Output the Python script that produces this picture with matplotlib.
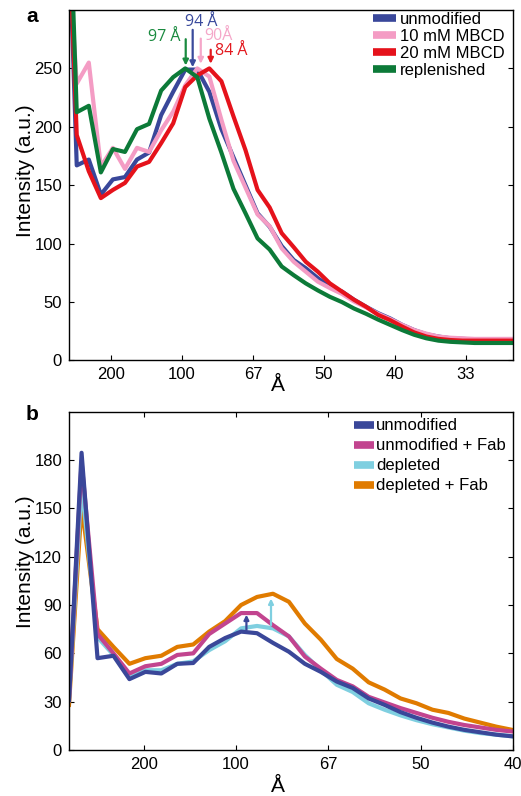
import matplotlib
matplotlib.use('Agg')
import matplotlib.pyplot as plt

plt.rcParams['font.family'] = ['Liberation Sans', 'DejaVu Sans']

# ---------------- Panel a data ----------------
q_a = [0.001736, 0.002585, 0.003434, 0.004283, 0.005132, 0.005981, 0.006830, 0.007679,
       0.008528, 0.009377, 0.010226, 0.011075, 0.011924, 0.012773, 0.013622, 0.014471,
       0.015320, 0.016169, 0.017018, 0.017867, 0.018716, 0.019565, 0.020414, 0.021263,
       0.022112, 0.022961, 0.023810, 0.024659, 0.025508, 0.026357, 0.027206, 0.028055,
       0.028904, 0.029753, 0.030602, 0.031451, 0.032300, 0.033149, 0.033998]
a_unmod = [480, 167, 172, 142, 155, 157, 172, 178, 210, 230, 249, 249, 230, 198, 174, 150,
           126, 114.5, 98, 86, 79, 70.5, 63, 59, 52, 46, 40.5, 36, 30.5, 26, 22.5, 20.5,
           19, 18.5, 18, 18, 17.5, 17.5, 17.5]
a_10mm = [400, 237, 255, 166, 182, 164, 182, 178.5, 197, 213, 235.5, 250, 243, 206, 171, 148,
          125, 115, 96, 84.5, 76, 67.5, 62, 57, 50.5, 45.5, 40, 35.5, 30.5, 26, 23, 20.5,
          19.5, 19, 18.5, 18.5, 18.5, 18.5, 18.5]
a_20mm = [470, 193, 162, 139, 146, 152, 166, 170, 186, 203, 234, 244, 250, 239, 209, 180,
          146, 131, 109, 97, 84.5, 76, 66, 59, 52, 46, 39, 34.5, 29, 24, 20.5, 18.5,
          17.5, 17, 17, 17, 17, 17, 17]
a_repl = [520, 212.5, 218, 161, 181, 178.5, 198, 202.5, 231, 242.5, 250, 242.5, 207, 178, 147, 126,
          104.5, 95, 80.5, 73, 66, 60, 54.5, 50, 44.5, 40, 35, 30.5, 26, 22, 19, 17,
          16, 15.5, 15, 15, 15, 15, 15]
a_labels = ['unmodified', '10 mM MBCD', '20 mM MBCD', 'replenished']
a_colors = ['#39479a', '#f49cc4', '#e5121b', '#0c7a38']
a_xticks = [0.005, 0.010, 0.015, 0.020, 0.025, 0.030]
a_xticklabels = ['200', '100', '67', '50', '40', '33']
a_yticks = [0, 50, 100, 150, 200, 250]

# peak annotations (label, arrow x, arrow tail y, arrow head y, text x, text y, ha, colour)
a_peaks = [('97 Å', 0.01026, 275, 252.5, 0.00986, 276.5, 'right', '#1a8a3f'),
           ('94 Å', 0.01075, 283, 251, 0.01021, 290, 'left', '#3a4a9c'),
           ('90Å', 0.01132, 275.5, 254, 0.01155, 278, 'left', '#f5a7c9'),
           ('84 Å', 0.01202, 266, 254, 0.01232, 264.5, 'left', '#e3191f')]

# ---------------- Panel b data ----------------
q_b = [0.000960, 0.001640, 0.002503, 0.003366, 0.004229, 0.005092, 0.005955, 0.006818,
       0.007681, 0.008544, 0.009407, 0.010270, 0.011133, 0.011996, 0.012859, 0.013722,
       0.014585, 0.015448, 0.016311, 0.017174, 0.018037, 0.018900, 0.019763, 0.020626,
       0.021489, 0.022352, 0.023215, 0.024078, 0.024941]
b_unmod = [31, 184.5, 57, 58.5, 44, 48.5, 47.5, 53.5, 54, 64, 69.5, 73.5, 72.5, 66.5, 61,
           53.5, 48.5, 42.5, 38.5, 32, 28, 23.5, 20, 17, 14.5, 12.5, 11, 9.5, 8.5]
b_unmod_fab = [31, 179, 72, 60, 47.5, 52, 53.5, 59, 60, 72, 78.5, 85, 85, 77.5, 70.5,
               58, 50.5, 43.5, 39.5, 33, 29.5, 26, 23, 20, 17.5, 15.5, 14, 12.5, 11.5]
b_depl = [31, 165, 70, 59, 45.5, 49.5, 49.5, 53.5, 55, 62, 67.5, 75.5, 77, 75.5, 70.5,
          59, 49.5, 40.5, 36, 29, 25, 21.5, 18.5, 16, 14, 12, 10.5, 9.5, 8.5]
b_depl_fab = [28, 152, 75, 64, 53.5, 57, 58.5, 64, 65.5, 73.5, 80, 90, 95, 97, 92,
              78.5, 68.5, 56.5, 50.5, 42, 37.5, 32, 29, 25, 23, 19.5, 17, 14.5, 12.5]
b_labels = ['unmodified', 'unmodified + Fab', 'depleted', 'depleted + Fab']
b_colors = ['#3a4799', '#c2448f', '#7fcfe0', '#e07b00']
b_xticks = [0.005, 0.010, 0.015, 0.020, 0.025]
b_xticklabels = ['200', '100', '67', '50', '40']
b_yticks = [0, 30, 60, 90, 120, 150, 180]
# shift arrows (x, tail y, head y, colour)
b_arrows = [(0.01056, 74.5, 84, '#3a4799'), (0.01189, 77.5, 94, '#7fcfe0')]

W, H = 521, 796
fig = plt.figure(figsize=(W / 100, H / 100), dpi=100)


def box(l, t, r, b):
    return [l / W, 1 - b / H, (r - l) / W, (b - t) / H]


axa = fig.add_axes(box(69, 10, 513.3, 360.5))
axb = fig.add_axes(box(69, 411.7, 513.3, 750))

LW = 3.0
# ---- panel a ----
handles_a = []
for y, c, lab in zip([a_unmod, a_10mm, a_20mm, a_repl], a_colors, a_labels):
    h, = axa.plot(q_a, y, color=c, lw=LW, label=lab, solid_joinstyle='round')
    handles_a.append(h)
axa.set_xlim(0.00204, 0.03333)
axa.set_ylim(0, 300)
axa.set_xticks(a_xticks)
axa.set_xticklabels(a_xticklabels)
axa.set_yticks(a_yticks)
axa.tick_params(direction='in', length=3.5, width=0.8, labelsize=12, right=True,
                top=False, pad=5)
for txt, xq, yt, yh, tx, ty, ha, c in a_peaks:
    axa.annotate('', xy=(xq, yh), xytext=(xq, yt),
                 arrowprops=dict(arrowstyle='-|>', color=c, lw=1.6, mutation_scale=8,
                                 shrinkA=0, shrinkB=0))
    axa.text(tx, ty, txt, color=c, ha=ha, va='center', fontsize=11.5,
             family=['Open Sans', 'DejaVu Sans'])
lega = axa.legend(handles=handles_a, loc='upper left', bbox_to_anchor=(0.684, 0.995),
                  frameon=False, fontsize=12, handlelength=1.4, handletextpad=0.2,
                  labelspacing=0.12, borderpad=0, borderaxespad=0)
for h in lega.legend_handles:
    h.set_linewidth(5.5)
    h.set_solid_capstyle('butt')

# ---- panel b ----
handles_b = []
series_b = [b_unmod, b_unmod_fab, b_depl, b_depl_fab]
for i in [3, 2, 1, 0]:
    h, = axb.plot(q_b, series_b[i], color=b_colors[i], lw=LW, label=b_labels[i],
                  solid_joinstyle='round')
    handles_b.append(h)
handles_b = handles_b[::-1]
axb.set_xlim(0.00096, 0.025)
axb.set_ylim(0, 210)
axb.set_xticks(b_xticks)
axb.set_xticklabels(b_xticklabels)
axb.set_yticks(b_yticks)
axb.tick_params(direction='in', length=3.5, width=0.8, labelsize=12, right=True,
                top=True, pad=5)
for xq, yt, yh, c in b_arrows:
    axb.annotate('', xy=(xq, yh), xytext=(xq, yt),
                 arrowprops=dict(arrowstyle='-|>', color=c, lw=1.6, mutation_scale=7,
                                 shrinkA=0, shrinkB=0))
legb = axb.legend(handles=handles_b, loc='upper left', bbox_to_anchor=(0.641, 0.98),
                  frameon=False, fontsize=12, handlelength=1.2, handletextpad=0.15,
                  labelspacing=0.3, borderpad=0, borderaxespad=0)
for h in legb.legend_handles:
    h.set_linewidth(5.5)
    h.set_solid_capstyle('butt')

for ax in (axa, axb):
    for s in ax.spines.values():
        s.set_linewidth(1.0)

# labels
fig.text(25.5 / W, 1 - 171 / H, 'Intensity (a.u.)', rotation=90, ha='center',
         va='center', fontsize=15)
fig.text(25.5 / W, 1 - 562 / H, 'Intensity (a.u.)', rotation=90, ha='center',
         va='center', fontsize=15)
fig.text(278 / W, 1 - 385 / H, 'Å', ha='center', va='center', fontsize=15)
fig.text(278 / W, 1 - 786 / H, 'Å', ha='center', va='center', fontsize=15)
fig.text(32 / W, 1 - 17 / H, 'a', ha='center', va='center', fontsize=15, fontweight='bold')
fig.text(32.5 / W, 1 - 414 / H, 'b', ha='center', va='center', fontsize=15,
         fontweight='bold')

fig.savefig('out.png', dpi=100)
